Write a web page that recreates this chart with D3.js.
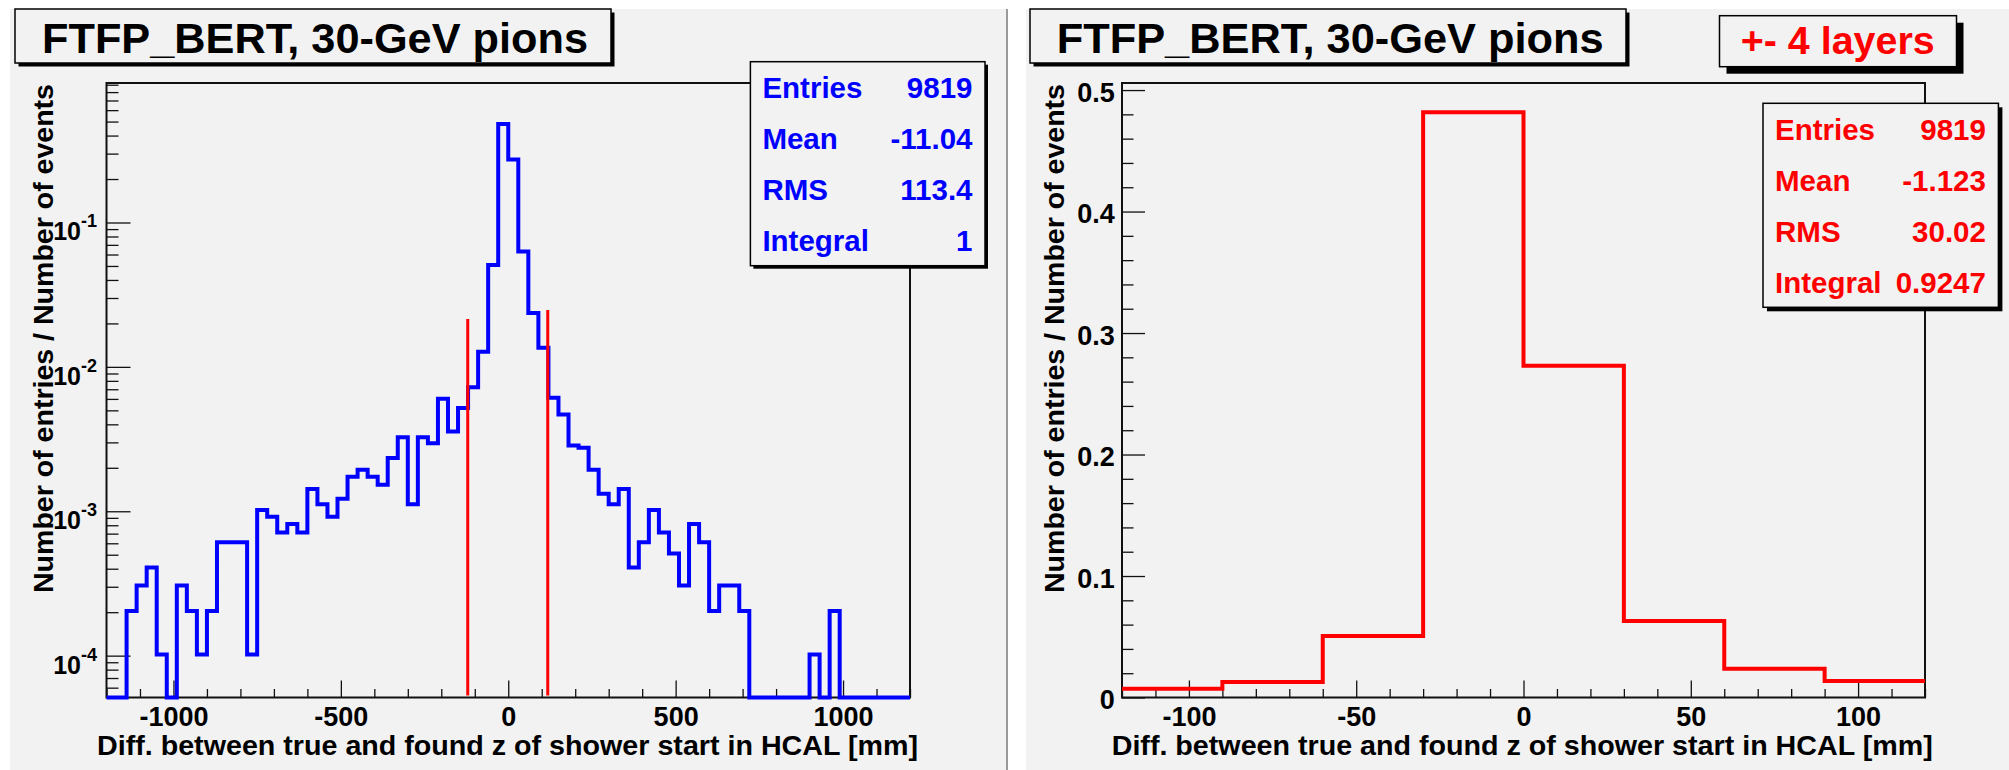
<!DOCTYPE html>
<html><head><meta charset="utf-8">
<script src="https://cdn.jsdelivr.net/npm/d3@7"></script>
<style>
body{margin:0;background:#fff;}
svg{display:block;}
text{font-family:"Liberation Sans",Arial,Helvetica,sans-serif;font-weight:bold;}
</style>
</head><body>
<svg id="c" width="2009" height="770"></svg>
<script>
// ---------------- data ----------------
const entries = 9819;
const binLow = -1200, binWidth = 30;
// entries per 30 mm bin, from -1200 to +1200 mm (80 bins)
const counts = [
  0, 0, 2, 3, 4, 1, 0, 3, 2, 1,
  2, 6, 6, 6, 1, 10, 9, 7, 8, 7,
  14, 11, 9, 12, 17, 19, 17, 15, 23, 32,
  11, 32, 29, 59, 35, 51, 71, 125, 498, 4730,
  2681, 619, 232, 133, 60, 46, 28, 27, 19, 13,
  11, 14, 4, 6, 10, 7, 5, 3, 8, 6,
  2, 3, 3, 2, 0, 0, 0, 0, 0, 0,
  1, 0, 2, 0, 0, 0, 0, 0, 0, 0
];
const cutLines = [{x: -121, y0: 5.3e-5, y1: 0.0215}, {x: 118, y0: 5.3e-5, y1: 0.0248}];
const rightRange = [-120, 120];
const xMajorLeft = [-1000, -500, 0, 500, 1000];
const yMajorLeft = [1e-4, 1e-3, 1e-2, 1e-1];
const yMajorLeftExp = ["-4", "-3", "-2", "-1"];
const xMajorRight = [-100, -50, 0, 50, 100];
const yMajorRight = [0, 0.1, 0.2, 0.3, 0.4, 0.5];
const statsLeft = [["Entries", "9819"], ["Mean", "-11.04"], ["RMS", "113.4"], ["Integral", "1"]];
const statsRight = [["Entries", "9819"], ["Mean", "-1.123"], ["RMS", "30.02"], ["Integral", "0.9247"]];
const titleText = "FTFP_BERT, 30-GeV pions";
const xTitle = "Diff. between true and found z of shower start in HCAL [mm]";
const yTitle = "Number of entries / Number of events";
const labelText = "+- 4 layers";

// ---------------- derived ----------------
const bins = counts.map((n, i) => ({x0: binLow + i * binWidth, x1: binLow + (i + 1) * binWidth, v: n / entries}));
const binsRight = bins.filter(b => b.x0 >= rightRange[0] && b.x1 <= rightRange[1]);

const svg = d3.select("#c");
const BLUE = "#0000ff", RED = "#ff0000", PAD = "#f2f2f2", INK = "#111";

// pads
svg.append("rect").attr("width", 2009).attr("height", 770).attr("fill", "#fff");
svg.append("rect").attr("x", 10).attr("y", 9).attr("width", 996).attr("height", 761).attr("fill", PAD);
svg.append("line").attr("x1", 1007).attr("x2", 1007).attr("y1", 9).attr("y2", 770).attr("stroke", "#9a9a9a").attr("stroke-width", 2);
svg.append("rect").attr("x", 1026).attr("y", 9).attr("width", 983).attr("height", 761).attr("fill", PAD);

function stepPath(data, x, y) {
  const p = d3.path();
  data.forEach((b, i) => {
    const yy = y(b.v);
    if (i === 0) p.moveTo(x(b.x0), yy); else p.lineTo(x(b.x0), yy);
    p.lineTo(x(b.x1), yy);
  });
  return p.toString();
}

function styleAxis(g, fs) {
  g.attr("font-family", null).attr("font-size", fs);
  g.select(".domain").remove();
  g.selectAll("line").attr("stroke", INK).attr("stroke-width", 1.3);
  g.selectAll("text").attr("fill", "#000");
}

function titleBox(x, y, w, h, shadow, text, tx, ty, fs, tl, color) {
  svg.append("rect").attr("x", x + shadow).attr("y", y + shadow).attr("width", w).attr("height", h).attr("fill", "#000");
  svg.append("rect").attr("x", x).attr("y", y).attr("width", w).attr("height", h)
    .attr("fill", PAD).attr("stroke", "#000").attr("stroke-width", 1.5);
  svg.append("text").attr("x", tx).attr("y", ty).attr("font-size", fs)
    .attr("textLength", tl).attr("lengthAdjust", "spacingAndGlyphs").attr("fill", color).text(text);
}

function statsBox(x, y, w, h, shadow, rows, color) {
  svg.append("rect").attr("x", x + shadow).attr("y", y + shadow).attr("width", w).attr("height", h).attr("fill", "#000");
  svg.append("rect").attr("x", x).attr("y", y).attr("width", w).attr("height", h)
    .attr("fill", PAD).attr("stroke", "#000").attr("stroke-width", 1.5);
  rows.forEach(([k, v], i) => {
    const yb = y + h * (2 * i + 1) / 8 + 11;
    svg.append("text").attr("x", x + 12).attr("y", yb).attr("font-size", 29.5).attr("fill", color).text(k);
    svg.append("text").attr("x", x + w - 12.5).attr("y", yb).attr("font-size", 29.5).attr("fill", color)
      .attr("text-anchor", "end").text(v);
  });
}

function frameAndTitles(fr, xTitleEnd, yTitleX) {
  svg.append("rect").attr("x", fr.x0).attr("y", fr.y0).attr("width", fr.x1 - fr.x0).attr("height", fr.y1 - fr.y0)
    .attr("fill", "none").attr("stroke", INK).attr("stroke-width", 2);
  svg.append("text").attr("x", xTitleEnd).attr("y", 755).attr("font-size", 28.5).attr("text-anchor", "end")
    .attr("textLength", 821).attr("lengthAdjust", "spacingAndGlyphs").text(xTitle);
  svg.append("text").attr("transform", `translate(${yTitleX},${fr.y0 + 1}) rotate(-90)`).attr("font-size", 28.5)
    .attr("text-anchor", "end").attr("textLength", 509).attr("lengthAdjust", "spacingAndGlyphs").text(yTitle);
}

// ---------------- left panel (log) ----------------
{
  const fr = {x0: 106.5, x1: 910, y0: 83, y1: 697.5};
  const x = d3.scaleLinear().domain([binLow, binLow + counts.length * binWidth]).range([fr.x0, fr.x1]);
  const y = d3.scaleLog().domain([5.13e-5, 0.925]).range([fr.y1, fr.y0]);
  frameAndTitles(fr, 918, 52.5);

  const xMinor = d3.range(-1200, 1201, 100).filter(v => !xMajorLeft.includes(v));
  styleAxis(svg.append("g").attr("transform", `translate(0,${fr.y1})`)
    .call(d3.axisBottom(x).tickValues(xMinor).tickSizeInner(-8.5).tickSizeOuter(0).tickFormat("")), 27);
  styleAxis(svg.append("g").attr("transform", `translate(0,${fr.y1})`)
    .call(d3.axisBottom(x).tickValues(xMajorLeft).tickSizeInner(-17).tickSizeOuter(0).tickPadding(9).tickFormat(d => String(d))), 27);

  const yMinor = [];
  for (let e = -5; e <= -1; e++) for (let m = 2; m <= 9; m++) {
    const v = m * Math.pow(10, e);
    if (v >= y.domain()[0] && v <= y.domain()[1]) yMinor.push(v);
  }
  styleAxis(svg.append("g").attr("transform", `translate(${fr.x0},0)`)
    .call(d3.axisLeft(y).tickValues(yMinor).tickSizeInner(-12).tickSizeOuter(0).tickFormat("")), 25);
  const gy = svg.append("g").attr("transform", `translate(${fr.x0},0)`)
    .call(d3.axisLeft(y).tickValues(yMajorLeft).tickSizeInner(-24).tickSizeOuter(0).tickFormat(""));
  styleAxis(gy, 25);
  gy.selectAll(".tick").each(function(d, i) {
    const t = d3.select(this).append("text").attr("x", -9.5).attr("y", 17.5).attr("text-anchor", "end")
      .attr("fill", "#000").attr("font-size", 25);
    t.append("tspan").text("10");
    t.append("tspan").attr("font-size", 18).attr("dy", -13).text(yMajorLeftExp[i]);
  });

  const yv = v => v > 0 ? Math.min(y(v), fr.y1) : fr.y1;
  svg.append("path").attr("d", stepPath(bins, x, yv)).attr("fill", "none")
    .attr("stroke", BLUE).attr("stroke-width", 4).attr("stroke-linejoin", "miter");

  cutLines.forEach(c => {
    svg.append("line").attr("x1", x(c.x)).attr("x2", x(c.x)).attr("y1", y(c.y0)).attr("y2", y(c.y1))
      .attr("stroke", RED).attr("stroke-width", 3);
  });

  statsBox(750.4, 61.7, 234.6, 204, 3, statsLeft, BLUE);
  titleBox(15, 9, 596, 54, 3.5, titleText, 42, 52.5, 43, 546, "#000");
}

// ---------------- right panel (linear) ----------------
{
  const fr = {x0: 1122, x1: 1925, y0: 83, y1: 697.5};
  const x = d3.scaleLinear().domain(rightRange).range([fr.x0, fr.x1]);
  const y = d3.scaleLinear().domain([0, 1.05 * d3.max(binsRight, b => b.v)]).range([fr.y1, fr.y0]);
  frameAndTitles(fr, 1932.7, 1064);

  const xMinor = d3.range(-120, 121, 10).filter(v => !xMajorRight.includes(v));
  styleAxis(svg.append("g").attr("transform", `translate(0,${fr.y1})`)
    .call(d3.axisBottom(x).tickValues(xMinor).tickSizeInner(-8.5).tickSizeOuter(0).tickFormat("")), 27);
  styleAxis(svg.append("g").attr("transform", `translate(0,${fr.y1})`)
    .call(d3.axisBottom(x).tickValues(xMajorRight).tickSizeInner(-17).tickSizeOuter(0).tickPadding(9).tickFormat(d => String(d))), 27);

  const yMinor = d3.range(0, 26).map(i => i * 0.02).filter(v => v <= y.domain()[1] && Math.round(v * 100) % 10 !== 0);
  styleAxis(svg.append("g").attr("transform", `translate(${fr.x0},0)`)
    .call(d3.axisLeft(y).tickValues(yMinor).tickSizeInner(-11.5).tickSizeOuter(0).tickFormat("")), 27);
  const gy = svg.append("g").attr("transform", `translate(${fr.x0},0)`)
    .call(d3.axisLeft(y).tickValues(yMajorRight).tickSizeInner(-23).tickSizeOuter(0).tickPadding(7.3)
      .tickFormat(d => d === 0 ? "0" : d3.format(".1f")(d)));
  styleAxis(gy, 27);
  gy.selectAll("text").attr("dy", "0.42em");

  svg.append("path").attr("d", stepPath(binsRight, x, y)).attr("fill", "none")
    .attr("stroke", RED).attr("stroke-width", 4).attr("stroke-linejoin", "miter");

  statsBox(1763, 103.3, 235.4, 204, 4, statsRight, RED);
  titleBox(1030, 9, 596, 54, 3.5, titleText, 1056.7, 52.5, 43, 547, "#000");
  titleBox(1719.5, 15.7, 237, 51, 7, labelText, 1740.7, 53.5, 39, 194, RED);
}
</script>
</body></html>
